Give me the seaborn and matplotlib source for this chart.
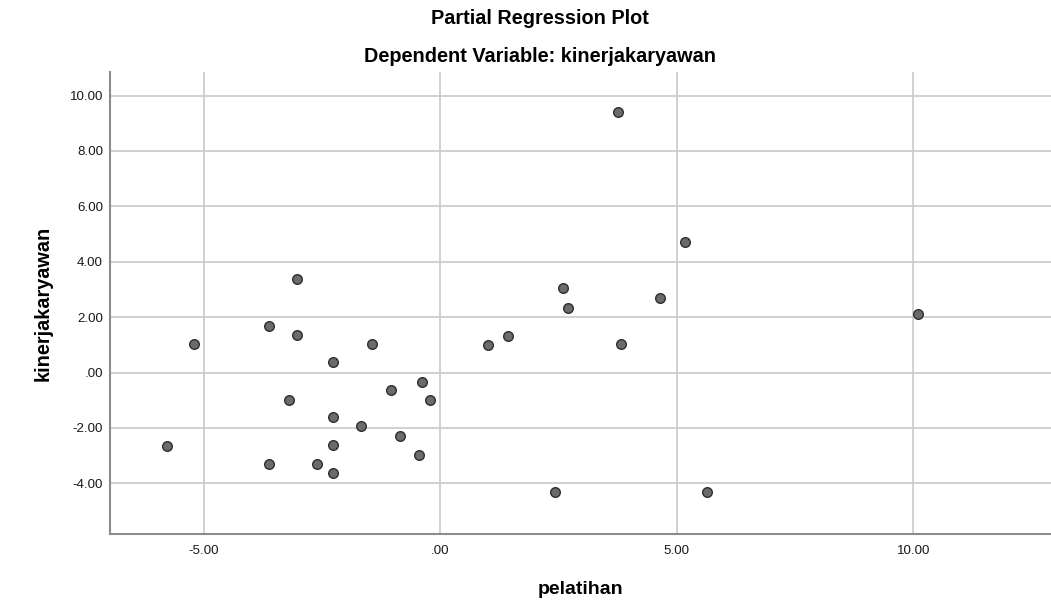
import matplotlib
matplotlib.use("Agg")
import matplotlib.pyplot as plt
import seaborn as sns
import pandas as pd

# partial regression values
pelatihan = [-5.20, -3.62, -3.03, -1.44, -2.26, -0.39, -1.03, -3.20, -0.21, -2.26,
             -1.68, -0.85, -5.78, -2.26, -0.44, -3.62, -2.61, -2.26, 1.02, 1.43,
             -3.03, 3.76, 5.17, 2.59, 4.65, 2.71, 10.10, 3.82, 2.42, 5.64]
kinerjakaryawan = [1.03, 1.69, 1.37, 1.04, 0.39, -0.33, -0.63, -0.98, -0.98, -1.61,
                   -1.94, -2.28, -2.65, -2.62, -2.96, -3.30, -3.30, -3.62, 1.00, 1.33,
                   3.39, 9.42, 4.72, 3.06, 2.70, 2.32, 2.10, 1.03, -4.32, -4.33]

x_ticks = [-5, 0, 5, 10]
x_tick_labels = ["-5.00", ".00", "5.00", "10.00"]
y_ticks = [-4, -2, 0, 2, 4, 6, 8, 10]
y_tick_labels = ["-4.00", "-2.00", ".00", "2.00", "4.00", "6.00", "8.00", "10.00"]

df = pd.DataFrame({"pelatihan": pelatihan, "kinerjakaryawan": kinerjakaryawan})

sns.set_style("white")
plt.rcParams["font.family"] = ["Liberation Sans", "DejaVu Sans"]

fig = plt.figure(figsize=(10.51, 6.01), dpi=100)
ax = fig.add_axes([110 / 1051, 67 / 601, 941 / 1051, 462 / 601])

sns.scatterplot(data=df, x="pelatihan", y="kinerjakaryawan", ax=ax,
                s=48, color="#6b6b6b", edgecolor="#2e2e2e", linewidth=1.0, zorder=3)

ax.set_xlim(-6.98, 12.91)
ax.set_ylim(-5.83, 10.85)
ax.set_xticks(x_ticks)
ax.set_xticklabels(x_tick_labels)
ax.set_yticks(y_ticks)
ax.set_yticklabels(y_tick_labels)
ax.tick_params(length=0, labelsize=9.6, labelcolor="#1a1a1a")
ax.tick_params(axis="x", pad=8)
ax.tick_params(axis="y", pad=5)

ax.grid(True, color="#cacaca", linewidth=1.2)
ax.set_axisbelow(True)
for side in ["top", "right"]:
    ax.spines[side].set_visible(False)
for side in ["left", "bottom"]:
    ax.spines[side].set_color("#8c8c8c")
    ax.spines[side].set_linewidth(1.5)

ax.set_xlabel("pelatihan", fontsize=14, fontweight="bold", labelpad=17, color="black")
ax.set_ylabel("kinerjakaryawan", fontsize=14.3, fontweight="bold", labelpad=12, color="black")

fig.text(540 / 1051, 1 - 19 / 601, "Partial Regression Plot", ha="center", va="center",
         fontsize=14.3, fontweight="bold", color="black")
fig.text(540 / 1051, 1 - 56 / 601, "Dependent Variable: kinerjakaryawan", ha="center",
         va="center", fontsize=14.3, fontweight="bold", color="black")

fig.savefig("out.png", dpi=100)
